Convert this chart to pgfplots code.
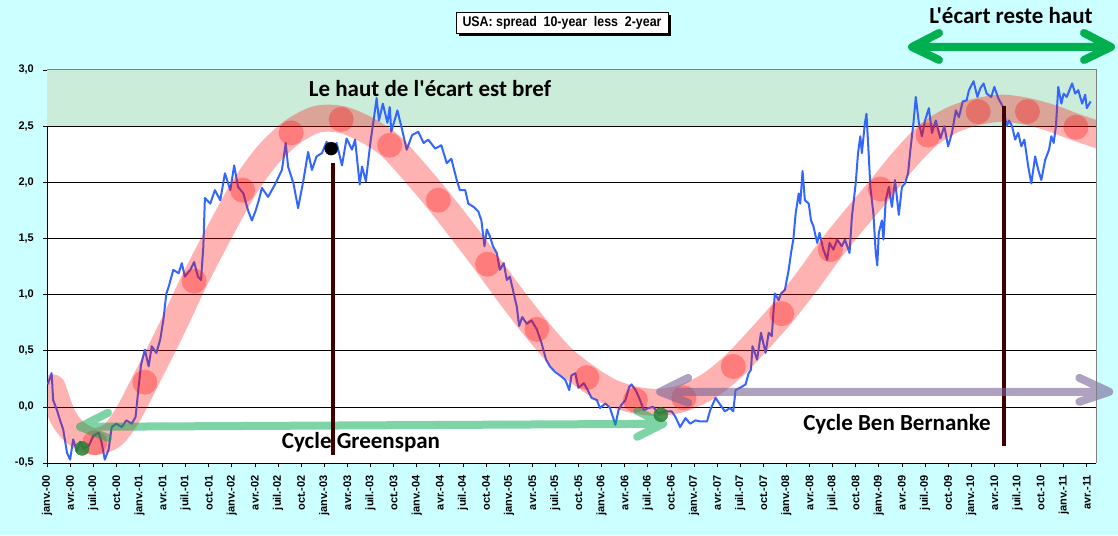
\documentclass[border=0pt]{standalone}
\usepackage{pgfplots}
\pgfplotsset{compat=1.18}
\usepackage{graphicx}
\usepackage{fontspec}
\setmainfont{Liberation Sans}
\newfontfamily\carl{Carlito}[Ligatures=TeXOff]
\definecolor{bgcyan}{RGB}{204,255,255}
\definecolor{bandgreen}{RGB}{204,236,218}
\definecolor{blueline}{RGB}{51,102,255}
\definecolor{vbrown}{RGB}{64,0,0}
\definecolor{xlgreen}{RGB}{0,176,80}
\definecolor{gsgreen}{RGB}{0,170,80}
\definecolor{bbgray}{RGB}{120,100,150}
\definecolor{dotgreen}{RGB}{40,130,50}
\definecolor{bordergray}{RGB}{128,128,128}
\newcommand{\yl}[1]{#1\kern8pt}
\begin{document}
\begin{tikzpicture}[x=1pt,y=1pt]
\fill[bgcyan] (0,0) rectangle (1118,535);
\begin{axis}[
  scale only axis, width=1049pt, height=393pt,
  at={(47pt,72pt)}, anchor=south west,
  xmin=0, xmax=136.2, ymin=-0.5, ymax=3,
  axis background/.style={fill=white},
  clip mode=individual,
  axis x line*=bottom, axis y line*=left,
  axis line style={black, line width=0.8pt, -},
  xtick={0,3,...,135},
  xticklabels={janv.-00,avr.-00,juil.-00,oct.-00,janv.-01,avr.-01,juil.-01,oct.-01,janv.-02,avr.-02,juil.-02,oct.-02,janv.-03,avr.-03,juil.-03,oct.-03,janv.-04,avr.-04,juil.-04,oct.-04,janv.-05,avr.-05,juil.-05,oct.-05,janv.-06,avr.-06,juil.-06,oct.-06,janv.-07,avr.-07,juil.-07,oct.-07,janv.-08,avr.-08,juil.-08,oct.-08,janv.-09,avr.-09,juil.-09,oct.-09,janv.-10,avr.-10,juil.-10,oct.-10,janv.-11,avr.-11},
  ytick={-0.5,0,0.5,1,1.5,2,2.5,3},
  yticklabels={\yl{-0,5},\yl{0,0},\yl{0,5},\yl{1,0},\yl{1,5},\yl{2,0},\yl{2,5},\yl{3,0}},
  ymajorgrids, grid style={black, line width=0.7pt},
  tick align=outside, major tick length=4pt,
  tick style={black, line width=0.7pt},
  ticklabel style={font=\bfseries\fontsize{11}{13}\selectfont},
  xticklabel style={rotate=90, anchor=east, inner sep=1pt},
  yticklabel style={anchor=east, inner sep=1pt},
  xticklabel shift=7pt,
]
% green band
\addplot[fill=bandgreen, draw=none] coordinates {(0,2.5) (136.2,2.5) (136.2,3) (0,3)} -- cycle;
\addplot[black, line width=0.7pt] coordinates {(0,2.5) (136.2,2.5)};

% blue series
\addplot[blueline, line width=2pt, line join=round] coordinates {
(0.1,0.20)(0.6,0.30)(0.8,0.06)(1.3,-0.03)(1.7,-0.12)(2.1,-0.20)(2.6,-0.41)(3.0,-0.47)(3.4,-0.29)(3.9,-0.40)
(4.3,-0.31)(4.7,-0.37)(5.4,-0.35)(6.0,-0.26)(6.7,-0.23)(7.1,-0.32)(7.5,-0.47)(8.0,-0.38)(8.4,-0.18)(9.0,-0.15)
(9.7,-0.18)(10.3,-0.12)(11.0,-0.15)(11.5,-0.09)(11.9,0.18)(12.2,0.37)(12.7,0.51)(13.2,0.36)(13.6,0.54)(14.2,0.48)
(14.7,0.60)(15.1,0.77)(15.5,1.01)(15.8,1.07)(16.4,1.22)(17.1,1.19)(17.5,1.28)(17.9,1.16)(18.6,1.22)(19.1,1.29)
(19.6,1.16)(20.0,1.13)(20.3,1.43)(20.5,1.86)(21.2,1.81)(21.8,1.93)(22.5,1.84)(23.1,2.08)(23.8,1.93)(24.3,2.15)
(24.8,1.96)(25.5,1.90)(26.1,1.75)(26.6,1.66)(27.1,1.75)(27.5,1.84)(27.9,1.95)(28.7,1.87)(29.6,1.98)(30.5,2.11)
(31.0,2.35)(31.3,2.14)(32.0,1.99)(32.6,1.77)(33.3,2.02)(33.9,2.27)(34.4,2.11)(35.0,2.23)(35.7,2.26)(36.3,2.36)
(36.9,2.29)(37.6,2.35)(38.3,2.15)(38.9,2.39)(39.6,2.29)(40.0,2.38)(40.6,1.98)(40.9,2.14)(41.4,2.01)(42.0,2.36)
(42.4,2.55)(42.8,2.75)(43.1,2.55)(43.6,2.70)(44.2,2.53)(44.5,2.67)(44.7,2.45)(45.5,2.64)(46.1,2.47)(46.7,2.29)
(47.4,2.42)(48.2,2.45)(48.9,2.35)(49.5,2.38)(50.4,2.30)(51.2,2.33)(51.9,2.17)(52.5,2.21)(53.2,2.02)(53.6,1.93)
(54.3,1.93)(54.7,1.81)(55.4,1.78)(56.0,1.74)(56.4,1.66)(56.8,1.43)(57.1,1.58)(57.5,1.52)(57.9,1.43)(58.4,1.37)
(58.8,1.22)(59.3,1.28)(59.7,1.13)(60.1,1.16)(60.6,1.01)(61.0,0.89)(61.3,0.72)(61.7,0.80)(62.3,0.74)(62.9,0.77)
(63.6,0.69)(64.2,0.57)(64.8,0.42)(65.3,0.36)(66.0,0.31)(66.6,0.28)(67.3,0.24)(67.8,0.15)(68.1,0.28)(68.6,0.30)
(69.0,0.17)(69.7,0.21)(70.2,0.15)(70.7,0.08)(71.4,0.06)(71.8,-0.01)(72.5,0.03)(73.1,-0.01)(73.8,-0.16)(74.2,-0.03)
(74.6,0.02)(75.1,0.06)(75.6,0.18)(75.9,0.20)(76.5,0.14)(77.0,0.06)(77.5,-0.03)(78.1,-0.01)(78.7,0.00)(79.4,-0.06)
(80.3,-0.04)(81.1,-0.04)(81.6,-0.09)(82.2,-0.18)(82.9,-0.10)(83.5,-0.15)(84.2,-0.12)(84.8,-0.13)(85.7,-0.13)(86.1,-0.03)
(86.8,0.08)(87.4,0.02)(88.0,-0.04)(88.7,-0.01)(89.1,-0.04)(89.4,0.15)(90.0,0.17)(90.7,0.20)(91.1,0.30)(91.4,0.33)
(91.6,0.54)(92.2,0.42)(92.7,0.66)(93.3,0.48)(93.7,0.66)(94.1,0.63)(94.5,1.01)(95.0,0.95)(95.3,1.01)(95.8,1.04)
(96.3,1.22)(96.6,1.37)(96.9,1.49)(97.2,1.72)(97.6,1.90)(97.8,1.81)(98.1,2.10)(98.4,1.84)(98.9,1.81)(99.2,1.66)
(99.5,1.61)(100.0,1.46)(100.3,1.55)(100.8,1.40)(101.3,1.31)(101.6,1.46)(102.1,1.40)(102.6,1.49)(103.2,1.43)(103.6,1.49)
(104.2,1.37)(104.5,1.69)(105.0,1.99)(105.3,2.26)(105.6,2.41)(105.8,2.26)(106.2,2.53)(106.4,2.61)(106.7,2.23)(106.9,1.96)
(107.3,1.72)(107.6,1.37)(107.8,1.26)(108.0,1.55)(108.4,1.66)(108.6,1.49)(108.9,1.84)(109.3,1.96)(109.7,1.78)(110.1,2.02)
(110.6,1.71)(111.0,1.96)(111.4,1.99)(111.8,2.08)(112.1,2.29)(112.5,2.53)(112.8,2.76)(113.2,2.53)(113.6,2.41)(114.0,2.55)
(114.5,2.66)(114.9,2.44)(115.4,2.55)(116.0,2.39)(116.5,2.50)(117.0,2.32)(117.5,2.44)(118.0,2.64)(118.4,2.58)(118.9,2.72)
(119.4,2.73)(119.7,2.82)(120.3,2.90)(120.8,2.76)(121.2,2.84)(121.6,2.88)(122.0,2.79)(122.6,2.76)(123.0,2.85)(123.5,2.75)
(123.9,2.70)(124.2,2.66)(124.6,2.50)(124.9,2.55)(125.3,2.50)(125.7,2.38)(126.1,2.44)(126.5,2.32)(126.9,2.38)(127.4,2.14)
(127.8,1.99)(128.3,2.23)(128.7,2.11)(129.1,2.02)(129.6,2.20)(130.1,2.29)(130.4,2.41)(130.7,2.35)(131.0,2.50)(131.3,2.85)
(131.7,2.70)(132.0,2.79)(132.4,2.76)(133.1,2.88)(133.5,2.79)(133.9,2.82)(134.4,2.70)(134.8,2.78)(135.0,2.66)(135.5,2.72)
};

% pink cycle band
\addplot[smooth, red, draw opacity=0.3, line width=27pt, line cap=round] coordinates {
(0.7,0.17)(2.0,-0.08)(3.5,-0.22)(5.5,-0.30)(7.0,-0.30)(8.7,-0.24)(10.5,-0.07)(12.7,0.22)(16,0.67)(19.1,1.12)
(22.2,1.53)(25.4,1.93)(28.5,2.23)(31.7,2.44)(35,2.56)(38.2,2.56)(41.4,2.47)(44.5,2.33)(47.6,2.10)(50.8,1.84)
(54,1.56)(57.2,1.27)(60.4,0.97)(63.6,0.69)(66.8,0.44)(70.1,0.26)(73.2,0.13)(76.4,0.06)(79.5,0.04)(82.7,0.08)
(86,0.19)(89.1,0.36)(92.3,0.59)(95.4,0.83)(98.6,1.11)(101.7,1.40)(105,1.68)(108.2,1.94)(111.3,2.20)(114.4,2.42)
(117.7,2.56)(120.9,2.63)(124.1,2.66)(127.3,2.63)(130.5,2.57)(133.6,2.49)(137.5,2.40)
};
% circles
\addplot[red, only marks, mark=*, mark size=12.5pt, mark options={fill=red, draw=none, fill opacity=0.3, draw opacity=0}] coordinates {
(6.2,-0.32)(12.7,0.22)(19.1,1.12)(25.4,1.93)(31.7,2.44)(38.2,2.56)(44.5,2.33)(50.8,1.84)(57.2,1.27)(63.6,0.69)
(70.1,0.26)(76.4,0.06)(82.7,0.08)(89.1,0.36)(95.4,0.83)(101.7,1.40)(108.2,1.94)(114.4,2.42)(120.9,2.63)(127.3,2.63)(133.6,2.49)
};

% Greenspan arrow
\draw[gsgreen, draw opacity=0.5, line width=8pt, line cap=round, line join=round]
  (axis cs:7.92,-0.053) -- (axis cs:4.29,-0.178) -- (axis cs:7.92,-0.276)
  (axis cs:4.29,-0.178) -- (axis cs:80.0,-0.151)
  (axis cs:76.62,-0.036) -- (axis cs:80.0,-0.151) -- (axis cs:76.62,-0.267);

% vertical lines
\addplot[vbrown, line width=4pt] coordinates {(37.1,2.17) (37.1,-0.43)};
\addplot[vbrown, line width=4pt] coordinates {(124.3,2.68) (124.3,-0.35)};

% Bernanke arrow
\draw[bbgray, draw opacity=0.6, line width=8pt, line cap=round, line join=round]
  (axis cs:83.25,0.258) -- (axis cs:79.61,0.134) -- (axis cs:83.25,0.036)
  (axis cs:79.61,0.134) -- (axis cs:137.92,0.134)
  (axis cs:134.03,0.258) -- (axis cs:137.92,0.134) -- (axis cs:134.03,0.045);

% dots
\addplot[black, only marks, mark=*, mark size=6.5pt, mark options={fill=black, draw=none}] coordinates {(36.9,2.30)};
\addplot[dotgreen, only marks, mark=*, mark size=7pt, mark options={fill=dotgreen, fill opacity=0.85, draw=none}] coordinates {(4.55,-0.37) (79.7,-0.07)};

% border
\draw[bordergray, line width=1pt] (rel axis cs:0,1) -- (rel axis cs:1,1) -- (rel axis cs:1,0);
\end{axis}

% top arrow
\draw[xlgreen, line width=8pt, line cap=round, line join=round]
  (939,502) -- (912,488) -- (939,475) (912,488) -- (1111,488)
  (1084,502) -- (1111,488) -- (1084,475);

% texts
\node[font=\carl\bfseries\fontsize{23}{27}\selectfont, inner sep=0] at (430,446) {Le haut de l'écart est bref};
\node[font=\carl\bfseries\fontsize{23}{27}\selectfont, inner sep=0] at (361,93) {Cycle Greenspan};
\node[font=\carl\bfseries\fontsize{23}{27}\selectfont, inner sep=0] at (897,111) {Cycle Ben Bernanke};
\node[font=\carl\bfseries\fontsize{23}{27}\selectfont, inner sep=0] at (1011,519) {L'écart reste haut};

% title box
\fill[black] (459,499) rectangle (671,520);
\node[draw=black, fill=white, line width=0.8pt, minimum width=212pt, minimum height=21pt, inner sep=0pt] at (562,512.5)
  {\resizebox{199pt}{\height}{\bfseries\fontsize{14}{16}\selectfont USA: spread\ \ 10-year\ \ less\ \ 2-year}};

\pgfresetboundingbox
\useasboundingbox (0,0) rectangle (1118,535);
\end{tikzpicture}
\end{document}
